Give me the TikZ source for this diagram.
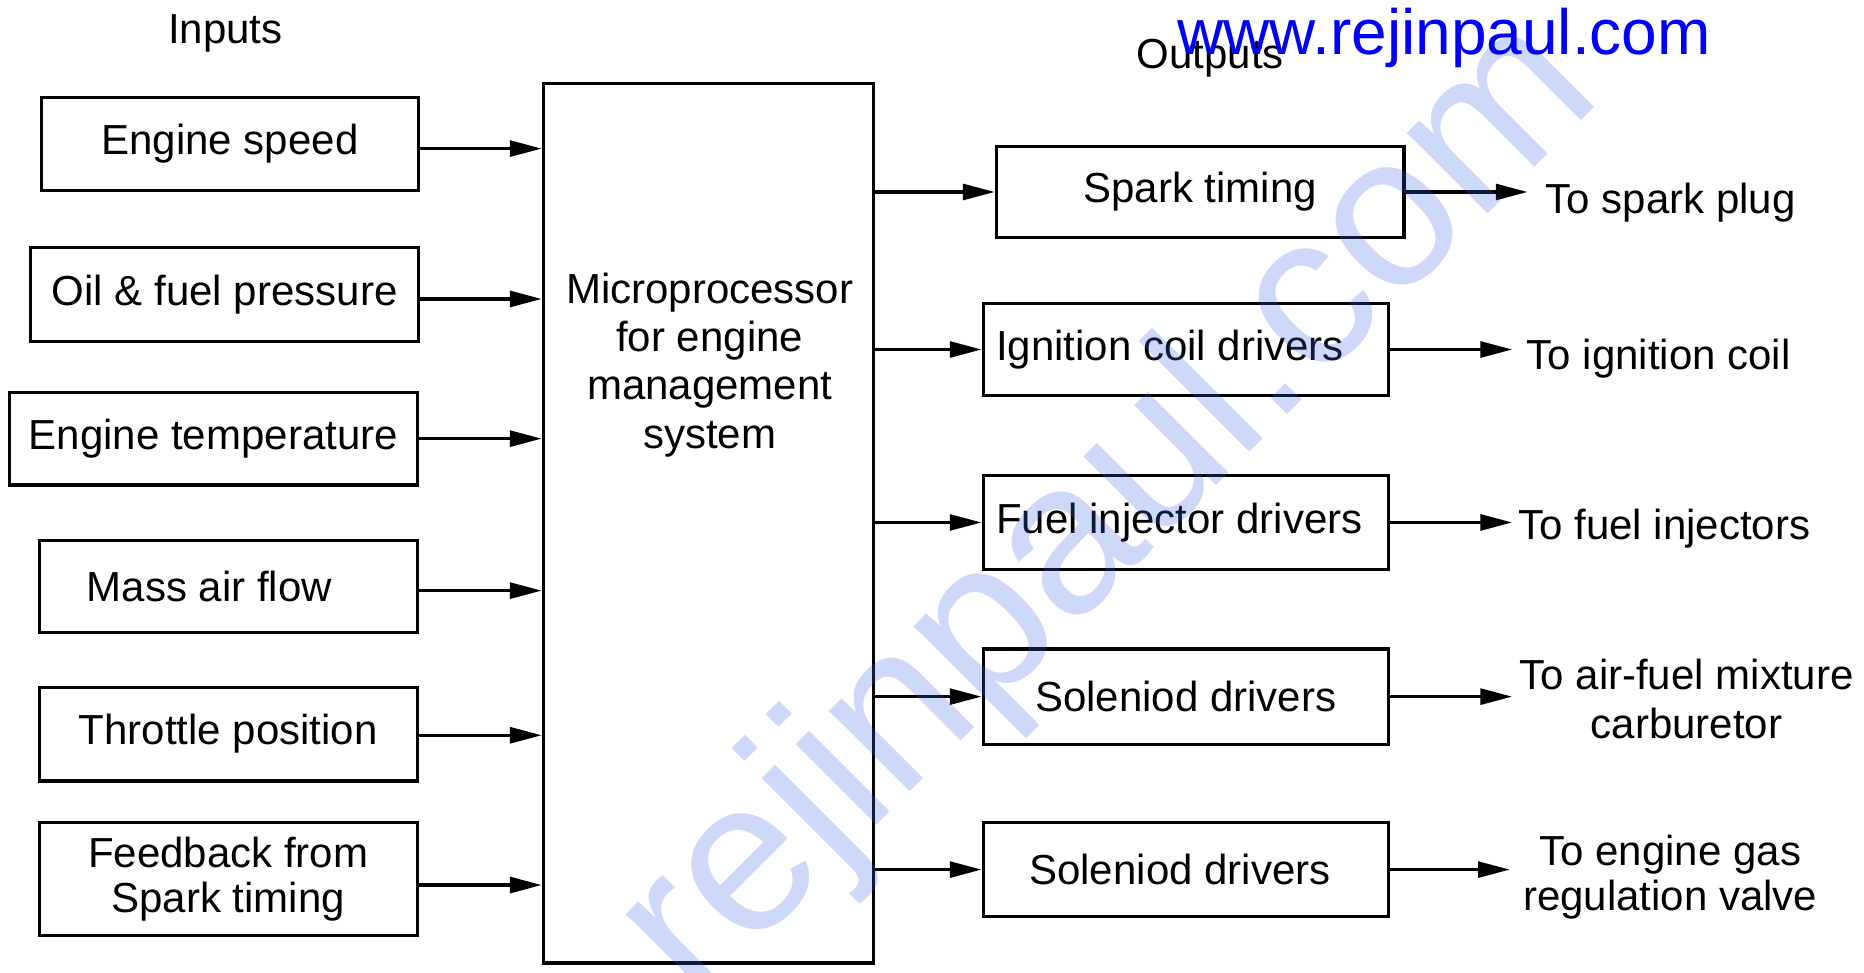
\documentclass[tikz,border=0pt]{standalone}
\usepackage{fontspec}
\setmainfont{Liberation Sans}
\usetikzlibrary{arrows.meta}
\definecolor{wmblue}{RGB}{60,100,230}
\definecolor{urlblue}{RGB}{0,0,250}
\begin{document}
\begin{tikzpicture}[x=0.6pt,y=-0.6pt,
  every node/.style={font=\fontsize{21.2}{24.4}\selectfont},
  box/.style={draw,line width=1.6pt,align=center,inner sep=0pt},
  arr/.style={line width=1.6pt,-{Triangle[length=16pt,width=8pt]}},
  lbl/.style={inner sep=0pt,align=center}]
\fill[white] (0,0) rectangle (1568,818);
\useasboundingbox (0,0) rectangle (1568,818);
\clip (0,0) rectangle (1568,818);

% headings
\node[lbl,anchor=base west] (inputs) at (141,36.5) {Inputs};
\node[lbl,anchor=base west] (outputs) at (956,57.5) {Outputs};

% input boxes
\node[box,minimum width=190.2pt,minimum height=46.8pt] (b1) at (193.5,121) {Engine speed};
\node[box,minimum width=195.6pt,minimum height=47.4pt] (b2) at (189,247.5) {Oil \& fuel pressure};
\node[box,minimum width=205.8pt,minimum height=46.8pt] (b3) at (179.5,369) {Engine temperature};
\node[box,minimum width=190.8pt,minimum height=46.2pt] (b4) at (192,493.5) {\hspace*{-19pt}Mass air flow};
\node[box,minimum width=190.8pt,minimum height=47.4pt] (b5) at (192,617.5) {Throttle position};
\node[box,minimum width=190.8pt,minimum height=57pt,font=\fontsize{21.2}{22.8}\selectfont] (b6) at (192,739.5) {Feedback from\\Spark timing};

% main box
\node[box,minimum width=166.8pt,minimum height=444pt] (main) at (596,440) {};
\node[lbl] (mainlabel) at (597,307) {Microprocessor\\for engine\\management\\system};

% output boxes
\node[box,minimum width=205.8pt,minimum height=46.2pt] (o1) at (1009.5,161.5) {Spark timing};
\node[box,minimum width=204.6pt,minimum height=46.8pt] (o2) at (997.5,294) {\hspace*{-16pt}Ignition coil drivers};
\node[box,minimum width=204.6pt,minimum height=47.4pt] (o3) at (997.5,439.5) {\hspace*{-6.6pt}Fuel injector drivers};
\node[box,minimum width=204.6pt,minimum height=48pt] (o4) at (997.5,586) {Soleniod drivers};
\node[box,minimum width=204.6pt,minimum height=47.4pt] (o5) at (997.5,731.5) {\hspace*{-6pt}Soleniod drivers};

% output labels
\node[lbl,anchor=base west,inner xsep=9pt] (t1) at (1285,179.6) {To spark plug};
\node[lbl,anchor=base west,inner xsep=7.2pt] (t2) at (1272,311.2) {To ignition coil};
\node[lbl,anchor=base west,inner xsep=3pt] (t3) at (1272,453.8) {To fuel injectors};
\node[lbl,anchor=west,inner xsep=3.6pt,font=\fontsize{21.2}{24.3}\selectfont] (t4) at (1272,588) {To air-fuel mixture\\carburetor};
\node[lbl,anchor=west,inner xsep=6.6pt,font=\fontsize{21.2}{23.1}\selectfont] (t5) at (1270,737.8) {To engine gas\\regulation valve};

% input arrows
\draw[arr] ([yshift=-2.4pt]b1.east) -- ([yshift=-2.4pt]b1.east -| main.west);
\draw[arr] ([yshift=-2.4pt]b2.east) -- ([yshift=-2.4pt]b2.east -| main.west);
\draw[arr] (b3.east) -- (b3.east -| main.west);
\draw[arr] ([yshift=-2pt]b4.east) -- ([yshift=-2pt]b4.east -| main.west);
\draw[arr] ([yshift=-0.6pt]b5.east) -- ([yshift=-0.6pt]b5.east -| main.west);
\draw[arr] ([yshift=-3pt]b6.east) -- ([yshift=-3pt]b6.east -| main.west);

% output arrows
\foreach \o/\t in {o1/t1,o2/t2,o3/t3,o4/t4,o5/t5}{
  \draw[arr] (\o.west -| main.east) -- (\o.west);
  \draw[arr] (\o.east) -- (\o.east -| \t.west);
}

% watermarks
\node[rotate=45,text=wmblue,text opacity=0.25,inner sep=0pt,font=\fontsize{109}{109}\selectfont] (wm) at (934.6,430.7) {rejinpaul.com};
\node[anchor=base west,inner sep=0pt,text=urlblue,font=\fontsize{32.3}{32.3}\selectfont] (url) at (990,46) {www.rejinpaul.com};
\end{tikzpicture}
\end{document}
